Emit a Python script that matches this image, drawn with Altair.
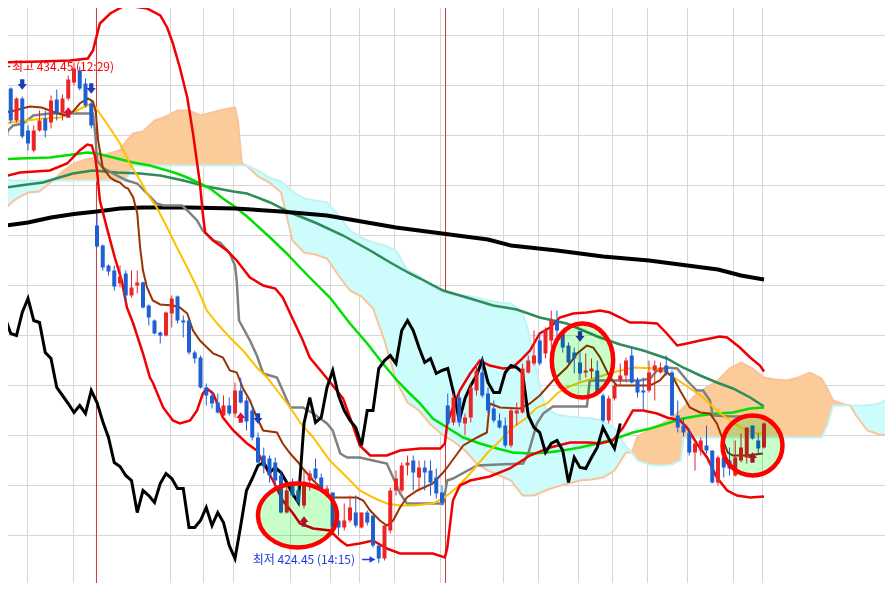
import altair as alt
import pandas as pd

# ---------------- candles (bar index 0..132) ----------------
opens = [434.20, 433.94, 433.30, 433.74, 433.10, 432.70, 433.10, 433.34, 433.26, 433.72,
         433.46, 433.74, 434.06, 434.30, 434.04, 433.64, 431.20, 430.80, 430.40, 430.30,
         430.04, 430.24, 429.80, 430.00, 430.06, 429.60, 429.30, 429.06, 429.00, 429.44,
         429.78, 429.30, 429.30, 428.66, 428.56, 427.96, 427.80, 427.66, 427.40, 427.60,
         427.44, 427.90, 427.70, 427.50, 426.96, 426.60, 426.54, 426.46, 426.20, 425.46,
         426.04, 425.90, 425.60, 426.10, 426.34, 426.16, 425.80, 425.86, 425.30, 425.16,
         425.30, 425.46, 425.16, 425.46, 425.40, 424.80, 424.54, 425.10, 425.90, 425.90,
         426.40, 426.50, 426.16, 426.36, 426.30, 426.16, 425.86, 427.60, 427.26, 427.76,
         427.24, 427.36, 427.90, 428.26, 427.84, 427.54, 427.30, 427.20, 426.80, 427.44,
         427.46, 428.26, 428.44, 428.90, 428.64, 428.90, 429.30, 429.04, 428.80, 428.66,
         428.46, 428.26, 428.28, 428.30, 427.80, 427.30, 427.74, 428.10, 428.20, 428.60,
         428.10, 427.90, 427.90, 428.30, 428.26, 428.40, 428.26, 427.40, 427.20, 427.06,
         426.66, 426.70, 426.80, 426.70, 426.06, 426.56, 426.50, 426.20, 426.50, 426.56,
         427.20, 426.90, 426.76]
closes = [433.90, 433.30, 433.74, 432.98, 432.84, 433.10, 433.30, 433.10, 433.70, 433.44,
          433.74, 434.12, 434.34, 433.94, 433.60, 433.20, 430.78, 430.36, 430.28, 429.98,
          430.18, 429.80, 429.96, 430.06, 429.56, 429.36, 429.04, 429.00, 429.46, 429.74,
          429.30, 429.26, 428.66, 428.54, 427.96, 427.80, 427.64, 427.46, 427.60, 427.44,
          427.90, 427.66, 427.28, 426.96, 426.46, 426.38, 426.20, 426.10, 425.46, 425.90,
          425.80, 425.66, 426.04, 426.24, 426.14, 425.94, 425.94, 425.16, 425.16, 425.30,
          425.56, 425.20, 425.46, 425.26, 424.80, 424.54, 425.20, 425.90, 426.14, 426.40,
          426.46, 426.26, 426.36, 426.26, 426.06, 425.84, 425.66, 427.24, 427.76, 427.26,
          427.36, 427.96, 428.30, 427.80, 427.50, 427.30, 427.16, 426.80, 427.50, 427.50,
          428.34, 428.50, 428.60, 428.44, 429.10, 429.30, 429.10, 428.76, 428.46, 428.54,
          428.24, 428.30, 428.34, 427.86, 427.30, 427.74, 428.00, 428.20, 428.50, 428.06,
          427.86, 427.86, 428.26, 428.40, 428.36, 428.26, 427.40, 427.16, 427.06, 426.66,
          426.84, 426.90, 426.70, 426.06, 426.56, 426.36, 426.34, 426.56, 426.76, 427.16,
          426.94, 426.74, 427.24]
highs = [434.24, 433.96, 433.76, 433.78, 433.20, 433.20, 433.50, 433.50, 433.80, 433.92,
         433.82, 434.20, 434.45, 434.38, 434.14, 433.70, 431.44, 430.82, 430.42, 430.40,
         430.40, 430.30, 430.30, 430.30, 430.08, 429.62, 429.32, 429.08, 429.48, 429.80,
         429.80, 429.40, 429.34, 428.70, 428.60, 428.04, 427.90, 427.84, 427.80, 427.76,
         428.06, 428.16, 427.76, 427.60, 427.06, 426.76, 426.60, 426.56, 426.30, 426.04,
         426.14, 426.10, 426.30, 426.30, 426.54, 426.24, 426.00, 425.86, 425.44, 425.64,
         425.80, 425.80, 425.46, 425.50, 425.40, 424.80, 425.20, 425.96, 426.30, 426.46,
         426.60, 426.60, 426.50, 426.50, 426.50, 426.34, 426.00, 427.84, 427.84, 427.84,
         427.44, 428.04, 428.44, 428.56, 427.96, 427.70, 427.44, 427.36, 427.54, 427.66,
         428.44, 428.60, 429.10, 429.04, 429.16, 429.50, 429.50, 429.10, 428.86, 428.76,
         428.66, 428.64, 428.54, 428.50, 427.84, 427.80, 428.06, 428.44, 428.56, 428.76,
         428.16, 428.16, 428.50, 428.50, 428.46, 428.60, 428.30, 427.70, 427.34, 427.14,
         426.90, 426.96, 427.20, 426.70, 426.60, 426.76, 426.76, 426.90, 427.04, 427.16,
         427.20, 427.04, 427.26]
lows = [433.80, 433.24, 433.26, 432.94, 432.70, 432.66, 433.08, 432.96, 433.14, 433.30,
        433.30, 433.70, 434.00, 433.90, 433.56, 433.14, 430.76, 430.30, 430.20, 429.90,
        429.96, 429.66, 429.76, 429.84, 429.54, 429.20, 429.02, 428.84, 428.98, 429.16,
        429.24, 428.96, 428.62, 428.44, 427.94, 427.60, 427.54, 427.44, 427.34, 427.40,
        427.36, 427.64, 427.10, 426.90, 426.44, 426.24, 426.06, 426.00, 425.44, 425.44,
        425.76, 425.64, 425.54, 425.90, 426.10, 425.90, 425.76, 425.14, 425.00, 425.10,
        425.26, 425.16, 425.14, 425.20, 424.76, 424.45, 424.50, 425.04, 425.80, 425.86,
        426.20, 425.90, 425.90, 425.90, 425.80, 425.74, 425.60, 427.20, 427.20, 427.18,
        427.00, 427.26, 427.80, 427.76, 427.44, 427.26, 427.14, 426.76, 426.76, 427.20,
        427.44, 428.24, 428.40, 428.40, 428.54, 428.76, 428.94, 428.66, 428.44, 428.24,
        428.10, 428.16, 428.14, 427.80, 427.26, 427.24, 427.70, 428.00, 428.06, 428.04,
        427.76, 427.50, 427.86, 427.70, 428.24, 428.20, 427.38, 427.06, 426.98, 426.60,
        426.30, 426.60, 426.64, 426.04, 426.00, 426.16, 426.20, 426.18, 426.46, 426.44,
        426.92, 426.64, 426.74]
chikou_shift = 25

# ---------------- ichimoku cloud (leading spans) ----------------
cloud_idx = [-1, 0, 2, 4, 6, 8.3, 10, 12, 14, 16, 18, 20, 21, 22.3, 24, 26, 28, 30, 32, 34,
             36, 38, 40, 40.5, 41.2, 42, 44, 46, 48, 50, 52, 54, 56, 58, 60, 62, 64, 66, 68, 70,
             72, 74, 76, 78, 80, 82, 84, 86, 88, 90, 91, 92, 93, 94, 96, 98, 100, 102, 104, 106,
             108, 109, 110, 112, 114, 116, 117, 117.5, 118, 120, 122, 124, 126, 128, 130, 132,
             134, 136, 138, 140, 142, 143, 144, 146, 147, 148, 150, 152, 154, 156]
span_p = [431.48, 431.54, 431.74, 431.86, 431.88, 432.10, 432.28, 432.44, 432.52, 432.56,
          432.64, 432.70, 432.88, 433.04, 433.08, 433.30, 433.38, 433.50, 433.50, 433.40,
          433.46, 433.52, 433.56, 433.30, 432.44, 432.40, 432.18, 432.06, 431.86, 430.90,
          430.66, 430.62, 430.54, 430.20, 429.90, 429.78, 429.54, 428.90, 428.10, 427.66,
          427.50, 427.22, 427.02, 426.88, 426.70, 426.44, 426.30, 426.20, 426.10, 425.80,
          425.80, 425.80, 425.85, 425.90, 425.98, 426.04, 426.10, 426.12, 426.16, 426.30,
          426.66, 426.66, 426.98, 427.10, 427.22, 427.36, 427.46, 427.50, 427.56, 427.80,
          427.96, 428.10, 428.34, 428.46, 428.34, 428.16, 428.12, 428.10, 428.16, 428.26,
          428.14, 427.94, 427.70, 427.62, 427.60, 427.40, 427.10, 427.02, 427.00, 427.00]
span_c = [432.10, 432.10, 432.10, 432.10, 432.10, 432.10, 432.10, 432.10, 432.10, 432.10,
          432.10, 432.10, 432.10, 432.40, 432.40, 432.40, 432.40, 432.40, 432.40, 432.40,
          432.40, 432.40, 432.40, 432.40, 432.40, 432.40, 432.30, 432.16, 432.08, 431.88,
          431.74, 431.70, 431.66, 431.40, 431.10, 430.96, 430.86, 430.80, 430.70, 430.30,
          430.20, 430.00, 429.86, 429.82, 429.80, 429.76, 429.70, 429.66, 429.64, 429.46,
          429.10, 428.54, 428.00, 427.54, 427.42, 427.38, 427.36, 427.34, 427.30, 427.14,
          426.78, 426.66, 426.50, 426.42, 426.40, 426.42, 426.48, 426.50, 426.96, 426.96,
          426.96, 426.96, 426.96, 426.96, 426.96, 426.96, 426.96, 426.96, 426.96, 426.96,
          426.96, 427.20, 427.60, 427.60, 427.60, 427.60, 427.60, 427.64, 427.76, 427.76]

# ---------------- indicator lines ----------------
bb_upper_idx = [-0.9, 6.1, 11.3, 14.4, 15.3, 16.5, 18.3, 20.5, 22.3, 24.7, 27.0, 28.2, 29.2, 30.4,
                31.7, 32.7, 33.9, 34.4, 34.8, 36.2, 38.6, 40.3, 42.6, 44.9, 47.0, 48.3, 49.6, 51.8,
                53.0, 55.3, 57.7, 58.8, 60.5, 61.7, 63.5, 66.4, 68.7, 72.2, 75.7, 76.5, 76.9, 77.7,
                79.1, 80.9, 82.6, 84.3, 86.6, 88.3, 89.6, 91.3, 93.0, 94.8, 96.5, 98.8, 101.2, 103.5,
                105.2, 107.0, 108.7, 111.0, 113.4, 115.1, 116.9, 118.6, 120.9, 124.3, 125.6, 127.8,
                129.6, 131.3, 132.0]
bb_upper_val = [434.46, 434.48, 434.50, 434.54, 434.70, 435.24, 435.44, 435.58, 435.58, 435.54,
                435.40, 435.16, 434.84, 434.36, 433.76, 433.04, 432.04, 431.44, 431.06, 430.90,
                430.70, 430.50, 430.16, 430.00, 429.94, 429.76, 429.44, 428.90, 428.56, 428.24,
                427.90, 427.74, 427.20, 426.80, 426.60, 426.60, 426.70, 426.74, 426.74, 426.84,
                427.24, 427.50, 427.90, 428.24, 428.50, 428.40, 428.34, 428.36, 428.50, 428.70,
                429.04, 429.16, 429.36, 429.44, 429.46, 429.50, 429.46, 429.36, 429.26, 429.26,
                429.24, 429.04, 428.80, 428.84, 428.90, 428.98, 428.96, 428.76, 428.56, 428.40,
                428.28]
bb_lower_idx = [-0.9, 2.6, 7.8, 10.8, 13.0, 14.3, 15.1, 15.7, 16.0, 16.5, 17.7, 19.1, 20.3, 21.2,
                22.3, 24.0, 25.2, 25.7, 27.5, 29.2, 30.4, 32.2, 33.4, 34.4, 35.1, 36.2, 37.9, 39.7,
                42.1, 43.8, 45.6, 46.6, 48.3, 50.1, 51.3, 53.6, 56.5, 58.3, 59.5, 61.7, 64.0, 66.4,
                68.7, 74.4, 76.5, 76.9, 77.9, 79.1, 80.9, 84.3, 87.8, 91.3, 94.8, 98.3, 101.7, 103.5,
                105.7, 107.5, 109.2, 111.0, 113.4, 115.1, 117.4, 118.6, 120.3, 122.1, 123.8, 125.6,
                127.3, 129.6, 132.0]
bb_lower_val = [432.16, 432.26, 432.30, 432.44, 432.70, 432.82, 432.80, 432.56, 432.30, 431.70,
                431.16, 430.56, 430.10, 429.56, 429.24, 428.64, 428.16, 428.06, 427.56, 427.30,
                427.24, 427.30, 427.50, 427.84, 427.94, 427.84, 427.36, 427.10, 426.84, 426.70,
                426.30, 426.10, 425.70, 425.44, 425.24, 425.14, 425.10, 424.90, 424.80, 424.84,
                424.90, 424.74, 424.64, 424.64, 424.56, 424.74, 425.70, 426.00, 426.10, 426.18,
                426.34, 426.60, 426.76, 426.86, 426.86, 426.84, 426.90, 427.16, 427.50, 427.50,
                427.44, 427.36, 427.30, 427.16, 426.84, 426.56, 426.16, 425.90, 425.80, 425.76,
                425.78]
tenkan_idx = [-0.9, 1.7, 4.3, 6.4, 8.7, 10.4, 11.7, 13.0, 14.4, 15.3, 15.8, 16.2, 17.0, 18.3, 19.1,
              20.0, 20.9, 21.4, 22.3, 23.0, 23.5, 24.0, 24.7, 25.7, 27.0, 29.2, 30.4, 31.7, 32.7,
              33.9, 36.2, 37.9, 39.1, 40.3, 41.4, 42.6, 43.8, 44.9, 47.3, 48.3, 49.6, 51.0, 51.8,
              53.6, 56.0, 57.0, 61.2, 62.3, 63.5, 65.2, 66.4, 67.5, 68.7, 69.9, 71.7, 74.4, 76.2,
              76.9, 79.7, 82.1, 83.8, 84.3, 86.1, 89.6, 91.3, 93.0, 95.3, 97.7, 99.5, 101.2, 102.3,
              103.5, 105.2, 106.4, 109.2, 112.2, 113.9, 115.1, 116.2, 117.4, 119.1, 120.9, 122.6,
              123.8, 124.9, 125.7, 126.6, 129.0, 131.8]
tenkan_val = [433.44, 433.50, 433.58, 433.56, 433.46, 433.40, 433.46, 433.64, 433.74, 433.68,
              433.46, 432.90, 432.36, 432.16, 432.10, 432.06, 431.96, 431.94, 431.76, 431.44,
              430.76, 430.30, 429.96, 429.70, 429.62, 429.60, 429.56, 429.44, 429.10, 428.90,
              428.64, 428.56, 428.30, 428.26, 427.94, 427.70, 427.36, 427.10, 427.06, 426.84,
              426.64, 426.46, 426.34, 426.10, 425.84, 425.76, 425.76, 425.70, 425.50, 425.30,
              425.20, 425.30, 425.56, 425.76, 425.90, 426.04, 426.26, 426.36, 426.80, 426.96,
              427.06, 427.64, 427.56, 427.54, 427.64, 427.80, 428.10, 428.36, 428.64, 428.80,
              428.76, 428.56, 428.16, 428.00, 428.00, 428.00, 428.10, 428.26, 428.16, 427.90,
              427.56, 427.46, 427.44, 427.24, 426.90, 426.66, 426.60, 426.60, 426.64]
kijun_idx = [-0.9, 0.0, 0.5, 1.4, 3.1, 4.3, 4.9, 7.8, 15.3, 15.7, 16.0, 17.0, 18.8, 21.2, 23.0,
             24.7, 26.4, 27.5, 30.8, 31.7, 33.4, 34.4, 36.2, 37.4, 39.1, 40.0, 40.3, 40.7, 42.6,
             43.8, 44.9, 47.3, 48.3, 49.6, 51.8, 53.6, 56.0, 57.0, 58.3, 59.5, 61.7, 64.0, 66.4,
             67.5, 68.7, 69.9, 76.2, 76.9, 77.9, 82.1, 90.1, 91.0, 92.5, 93.6, 95.3, 101.2, 101.7,
             105.2, 110.4, 112.2, 113.4, 115.1, 116.9, 118.6, 120.3, 121.4, 122.6, 123.1, 126.6,
             132.0]
kijun_val = [432.70, 432.80, 433.10, 433.20, 433.24, 433.34, 433.40, 433.44, 433.44, 433.04,
             432.50, 432.36, 432.24, 432.10, 432.04, 431.84, 431.64, 431.60, 431.60, 431.50,
             431.30, 431.10, 430.90, 430.86, 430.64, 430.40, 430.10, 429.30, 428.90, 428.60,
             428.24, 428.16, 427.90, 427.56, 427.56, 427.44, 427.24, 427.10, 426.64, 426.56,
             426.56, 426.50, 426.44, 426.16, 425.84, 425.64, 425.64, 426.10, 426.14, 426.40,
             426.44, 426.64, 427.24, 427.44, 427.58, 427.58, 428.10, 428.10, 428.10, 428.14,
             428.30, 428.36, 428.34, 428.10, 427.90, 427.90, 427.70, 427.40, 427.38, 427.38]
ma20_idx = [-0.9, 0.9, 3.8, 6.6, 9.6, 12.5, 14.3, 15.3, 16.5, 18.3, 20.0, 21.7, 23.5, 24.7, 26.4,
            28.2, 29.9, 31.7, 33.4, 35.1, 36.9, 39.1, 41.4, 43.8, 45.6, 47.3, 49.6, 51.3, 53.6,
            56.5, 59.5, 61.7, 64.0, 66.4, 68.7, 71.0, 74.4, 76.2, 78.6, 80.9, 83.8, 86.1, 88.3,
            90.8, 92.5, 94.3, 96.0, 97.7, 100.0, 102.3, 105.7, 109.2, 113.4, 115.1, 117.9, 119.7,
            121.4, 123.8, 126.1, 128.3, 130.1, 132.0]
ma20_val = [433.20, 433.26, 433.30, 433.34, 433.36, 433.50, 433.60, 433.64, 433.44, 433.14,
            432.84, 432.44, 432.10, 431.84, 431.56, 431.16, 430.76, 430.36, 429.96, 429.50,
            429.24, 428.96, 428.70, 428.36, 428.16, 427.90, 427.56, 427.26, 426.96, 426.50,
            426.16, 425.90, 425.76, 425.64, 425.60, 425.60, 425.64, 425.74, 425.96, 426.24,
            426.64, 426.90, 427.16, 427.36, 427.56, 427.64, 427.84, 427.96, 428.06, 428.14,
            428.26, 428.36, 428.34, 428.26, 428.04, 427.90, 427.76, 427.50, 427.30, 427.14,
            427.06, 427.04]
ma60_idx = [-0.9, 2.6, 7.8, 11.8, 14.3, 16.0, 18.8, 22.3, 25.2, 28.2, 29.9, 31.7, 33.9, 35.7, 37.9,
            39.7, 42.1, 46.1, 49.0, 51.3, 53.0, 56.5, 60.0, 63.0, 65.7, 68.2, 70.4, 72.2, 74.4,
            76.9, 79.7, 82.6, 85.6, 88.3, 91.3, 94.3, 97.0, 100.0, 103.0, 105.7, 109.2, 112.2,
            115.1, 117.9, 120.9, 123.8, 126.6, 129.6, 132.0]
ma60_val = [432.52, 432.54, 432.56, 432.62, 432.66, 432.64, 432.56, 432.46, 432.40, 432.30,
            432.24, 432.16, 432.04, 431.94, 431.74, 431.60, 431.38, 430.96, 430.64, 430.36,
            430.16, 429.76, 429.24, 428.84, 428.44, 428.10, 427.84, 427.64, 427.34, 427.16,
            426.96, 426.84, 426.74, 426.66, 426.64, 426.66, 426.70, 426.76, 426.84, 426.92,
            427.06, 427.14, 427.24, 427.34, 427.40, 427.44, 427.46, 427.54, 427.56]
ma120_idx = [-0.9, 2.6, 6.6, 8.3, 11.8, 15.3, 19.5, 23.5, 27.0, 31.0, 35.1, 39.7, 42.1, 46.1, 49.6,
             54.3, 58.8, 63.5, 67.0, 70.4, 72.2, 76.2, 80.3, 84.9, 89.0, 93.0, 97.7, 103.0, 107.0,
             111.0, 115.1, 117.9, 120.9, 123.8, 126.6, 129.6, 132.0]
ma120_val = [431.94, 432.00, 432.06, 432.12, 432.24, 432.30, 432.26, 432.24, 432.20, 432.10,
             431.98, 431.88, 431.84, 431.66, 431.46, 431.24, 431.00, 430.70, 430.46, 430.24,
             430.14, 429.90, 429.76, 429.60, 429.52, 429.36, 429.24, 428.98, 428.82, 428.70,
             428.54, 428.36, 428.20, 428.06, 427.94, 427.76, 427.58]
ma240_idx = [-1, 4, 8, 12, 16, 20, 24, 28, 32, 36, 40, 44, 48, 52, 56, 60, 64, 68, 72, 76, 80, 84,
             88, 92, 96, 100, 104, 108, 112, 116, 120, 124, 128, 132]
ma240_val = [431.18, 431.26, 431.36, 431.43, 431.48, 431.54, 431.56, 431.56, 431.56, 431.55,
             431.54, 431.51, 431.48, 431.44, 431.40, 431.32, 431.24, 431.16, 431.10, 431.04,
             430.98, 430.92, 430.80, 430.75, 430.70, 430.64, 430.58, 430.54, 430.50, 430.44,
             430.38, 430.32, 430.20, 430.12]

# ---------------- signals & annotations ----------------
sell_idx = [3, 15, 44, 100]
sell_val = [434.02, 433.94, 427.34, 428.98]
buy_idx = [11, 41, 52, 130]
buy_val = [433.46, 427.36, 425.28, 426.56]
circle_idx = [50.87, 100.43, 130.0]
circle_val = [425.40, 428.50, 426.80]
session_breaks = [15.91, 76.61]
hi_label = "최고 434.45 (12:29)"
lo_label = "최저 424.45 (14:15)"
hi_pos = (1.2, 434.38)
hi_arrow = (-0.9, 0.9, 434.38)
lo_pos = (43.1, 424.52)
lo_arrow = (62.1, 63.9, 424.52)
grid_x = [3.913, 11.913, 28.783, 34.522, 39.739, 49.652, 56.609, 61.652, 67.739, 75.739,
          86.696, 92.783, 99.739, 105.652, 111.739, 118.696, 126.696, 131.739]
grid_y = list(range(424, 436))

# ---------------- styling ----------------
RED_C = "#ec2424"
BLUE_C = "#1e5fd2"
GRID_C = "#d6d6d6"
XS = alt.Scale(domain=[0.5217, 153.0435], nice=False, zero=False, padding=0)
YS = alt.Scale(domain=[424.05, 435.55], nice=False, zero=False, padding=0)


def X(f="i"):
    return alt.X(f + ":Q", scale=XS, axis=None)


def Y(f="v"):
    return alt.Y(f + ":Q", scale=YS, axis=None)


def line_layer(idx, vals, color, width):
    df = pd.DataFrame({"i": idx, "v": vals, "o": list(range(len(idx)))})
    return alt.Chart(df).mark_line(color=color, strokeWidth=width, clip=True).encode(
        x=X(), y=Y(), order="o:Q")


layers = []

# grid
layers.append(alt.Chart(pd.DataFrame({"i": grid_x})).mark_rule(
    color=GRID_C, strokeWidth=1).encode(x=X()))
layers.append(alt.Chart(pd.DataFrame({"v": grid_y})).mark_rule(
    color=GRID_C, strokeWidth=1).encode(y=Y()))

# session separators
layers.append(alt.Chart(pd.DataFrame({"i": session_breaks})).mark_rule(
    color="#cc3b3b", strokeWidth=1).encode(x=X()))

# cloud
cdf = pd.DataFrame({"i": cloud_idx, "p": span_p, "c": span_c})
cdf["pk_top"] = cdf["p"].where(cdf["p"] >= cdf["c"], cdf["c"])
cdf["pk_bot"] = cdf["c"]
cdf["cy_top"] = cdf["c"].where(cdf["c"] >= cdf["p"], cdf["p"])
cdf["cy_bot"] = cdf["p"]
layers.append(alt.Chart(cdf).mark_area(color="#fccb9a", opacity=1, clip=True).encode(
    x=X(), y=Y("pk_top"), y2="pk_bot:Q"))
layers.append(alt.Chart(cdf).mark_area(color="#ccfcfc", opacity=1, clip=True).encode(
    x=X(), y=Y("cy_top"), y2="cy_bot:Q"))
layers.append(line_layer(cloud_idx, span_p, "#f8c49a", 2))
layers.append(line_layer(cloud_idx, span_c, "#c2f2f2", 2))

# moving averages and bands
layers.append(line_layer(ma120_idx, ma120_val, "#2e8b5a", 2.5))
layers.append(line_layer(ma60_idx, ma60_val, "#00e000", 2.5))
layers.append(line_layer(ma240_idx, ma240_val, "#000000", 4))
layers.append(line_layer(kijun_idx, kijun_val, "#808080", 2.5))
layers.append(line_layer(ma20_idx, ma20_val, "#ffc000", 2))
layers.append(line_layer(tenkan_idx, tenkan_val, "#993300", 2))
layers.append(line_layer(bb_upper_idx, bb_upper_val, "#f00000", 2.5))
layers.append(line_layer(bb_lower_idx, bb_lower_val, "#f00000", 2.5))

# lagging span: closes shifted back
lag_i = [k - chikou_shift for k in range(chikou_shift - 1, len(closes))]
lag_v = closes[chikou_shift - 1:]
layers.append(line_layer(lag_i, lag_v, "#000000", 3))

# candles
cd = pd.DataFrame({"i": list(range(len(opens))), "o": opens, "c": closes, "h": highs, "l": lows})
cd["dir"] = ["up" if c > o else "down" for o, c in zip(opens, closes)]
col = alt.Color("dir:N", scale=alt.Scale(domain=["up", "down"], range=[RED_C, BLUE_C]), legend=None)
layers.append(alt.Chart(cd).mark_rule(strokeWidth=1, clip=True).encode(
    x=X(), y=Y("l"), y2="h:Q", color=col))
layers.append(alt.Chart(cd).mark_bar(width=4, clip=True).encode(
    x=X(), y=Y("o"), y2="c:Q", color=col))

# buy / sell arrows
down_shape = "M-0.4,-1 L0.4,-1 L0.4,-0.1 L0.85,-0.1 L0,1 L-0.85,-0.1 L-0.4,-0.1 Z"
up_shape = "M-0.4,1 L0.4,1 L0.4,0.1 L0.85,0.1 L0,-1 L-0.85,0.1 L-0.4,0.1 Z"
layers.append(alt.Chart(pd.DataFrame({"i": sell_idx, "v": sell_val})).mark_point(
    shape=down_shape, filled=True, size=115, opacity=1, color="#1f3cb8", strokeWidth=0).encode(
    x=X(), y=Y()))
layers.append(alt.Chart(pd.DataFrame({"i": buy_idx, "v": buy_val})).mark_point(
    shape=up_shape, filled=True, size=115, opacity=1, color="#de1236", strokeWidth=0).encode(
    x=X(), y=Y()))

# highlight circles
ell_shapes = [
    ("M1,0 C1,0.4474 0.5523,0.81 0,0.81 C-0.5523,0.81 -1,0.4474 -1,0 "
     "C-1,-0.4474 -0.5523,-0.81 0,-0.81 C0.5523,-0.81 1,-0.4474 1,0 Z", 6241),
    ("M0.83,0 C0.83,0.5523 0.4584,1 0,1 C-0.4584,1 -0.83,0.5523 -0.83,0 "
     "C-0.83,-0.5523 -0.4584,-1 0,-1 C0.4584,-1 0.83,-0.5523 0.83,0 Z", 5476),
    ("circle", 3600),
]
for k, (shp, sz) in enumerate(ell_shapes):
    edf = pd.DataFrame({"i": [circle_idx[k]], "v": [circle_val[k]]})
    layers.append(alt.Chart(edf).mark_point(
        shape=shp, size=sz, filled=True, fill="#c8ffc8", opacity=1, strokeWidth=0,
        blend="multiply").encode(x=X(), y=Y()))
    layers.append(alt.Chart(edf).mark_point(
        shape=shp, size=sz, filled=False, stroke="#ff0000", strokeWidth=4.5, opacity=1).encode(
        x=X(), y=Y()))

# labels
layers.append(alt.Chart(pd.DataFrame({"i": [hi_pos[0]], "v": [hi_pos[1]], "t": [hi_label]}))
              .mark_text(align="left", baseline="middle", font="Noto Sans CJK KR", fontSize=12,
                         color="#ff0000").encode(x=X(), y=Y(), text="t:N"))
layers.append(alt.Chart(pd.DataFrame({"i": [hi_arrow[0]], "i2": [hi_arrow[1]], "v": [hi_arrow[2]]}))
              .mark_rule(color="#ff0000", strokeWidth=1.5, clip=True).encode(x=X(), x2="i2:Q", y=Y()))
layers.append(alt.Chart(pd.DataFrame({"i": [lo_pos[0]], "v": [lo_pos[1]], "t": [lo_label]}))
              .mark_text(align="left", baseline="middle", font="Noto Sans CJK KR", fontSize=12,
                         color="#1e3fe0").encode(x=X(), y=Y(), text="t:N"))
layers.append(alt.Chart(pd.DataFrame({"i": [lo_arrow[0]], "i2": [lo_arrow[1]], "v": [lo_arrow[2]]}))
              .mark_rule(color="#1e3fe0", strokeWidth=1.5).encode(x=X(), x2="i2:Q", y=Y()))
layers.append(alt.Chart(pd.DataFrame({"i": [lo_arrow[1]], "v": [lo_arrow[2]]}))
              .mark_point(shape="triangle-right", filled=True, size=45, opacity=1,
                          color="#1e3fe0").encode(x=X(), y=Y()))

chart = alt.layer(*layers).properties(
    width=877, height=575, padding=0,
    autosize=alt.AutoSizeParams(type="none"),
).configure_view(stroke=None)

chart.save("out.html", embed_options={"renderer": "svg", "actions": False})
